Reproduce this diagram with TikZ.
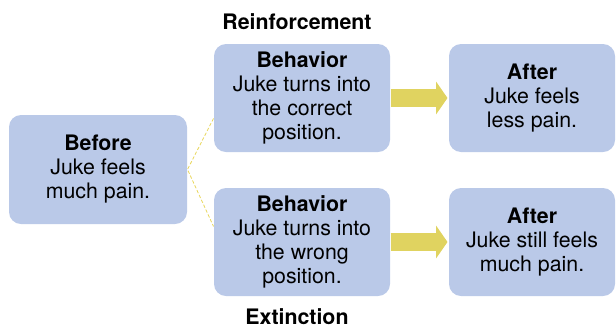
\documentclass[tikz,border=0pt]{standalone}
\usepackage{fontspec}
\setmainfont{TeX Gyre Heros}
\usetikzlibrary{arrows.meta}

\definecolor{boxblue}{RGB}{186,201,232}
\definecolor{arrowyellow}{RGB}{224,211,96}
\definecolor{dashyellow}{RGB}{232,214,90}

\tikzset{every picture/.style={line width=0.75pt}}
\tikzset{
  stagebox/.style={fill=boxblue, rounded corners=9pt, align=center, inner sep=0pt,
    font=\fontsize{16pt}{18pt}\selectfont},
  caption/.style={font=\fontsize{16pt}{18pt}\selectfont\bfseries, inner sep=0pt},
  blockarrow/.style={draw=arrowyellow, line width=14pt, shorten >=0.75pt,
    -{Triangle[width=24pt,length=8.5pt]}},
  branch/.style={draw=dashyellow, line width=0.6pt, dash pattern={on 2.5pt off 1.5pt}}
}

\begin{document}
\begin{tikzpicture}[x=0.75pt,y=0.75pt,yscale=-1,xscale=1]
\useasboundingbox (0,0) rectangle (616,329);

% Text Node
\node [stagebox, minimum width=133.5pt, minimum height=81.75pt] (before) at (98,169.5)
  {\textbf{Before}\\Juke feels\\much pain.};
% Text Node
\node [stagebox, minimum width=132pt, minimum height=81pt] (behavTop) at (302,98)
  {\textbf{Behavior}\\Juke turns into\\the correct\\position.};
% Text Node
\node [stagebox, minimum width=132pt, minimum height=81pt] (behavBot) at (302,242)
  {\textbf{Behavior}\\Juke turns into\\the wrong\\position.};
% Text Node
\node [stagebox, minimum width=124.5pt, minimum height=81pt] (afterTop) at (532,98)
  {\textbf{After}\\Juke feels\\less pain.};
% Text Node
\node [stagebox, minimum width=124.5pt, minimum height=81pt] (afterBot) at (532,242)
  {\textbf{After}\\Juke still feels\\much pain.};

% Text Node
\node [caption] (reinf) at (297,21.5) {Reinforcement};
% Text Node
\node [caption] (extinc) at (297,317) {Extinction};

%Dashed branch lines
\draw [branch] (behavTop.193) -- (before.east) -- (behavBot.170);

%Block arrows
\draw [blockarrow] (behavTop.east) -- (afterTop.west);
\draw [blockarrow] (behavBot.east) -- (afterBot.west);

\end{tikzpicture}
\end{document}
